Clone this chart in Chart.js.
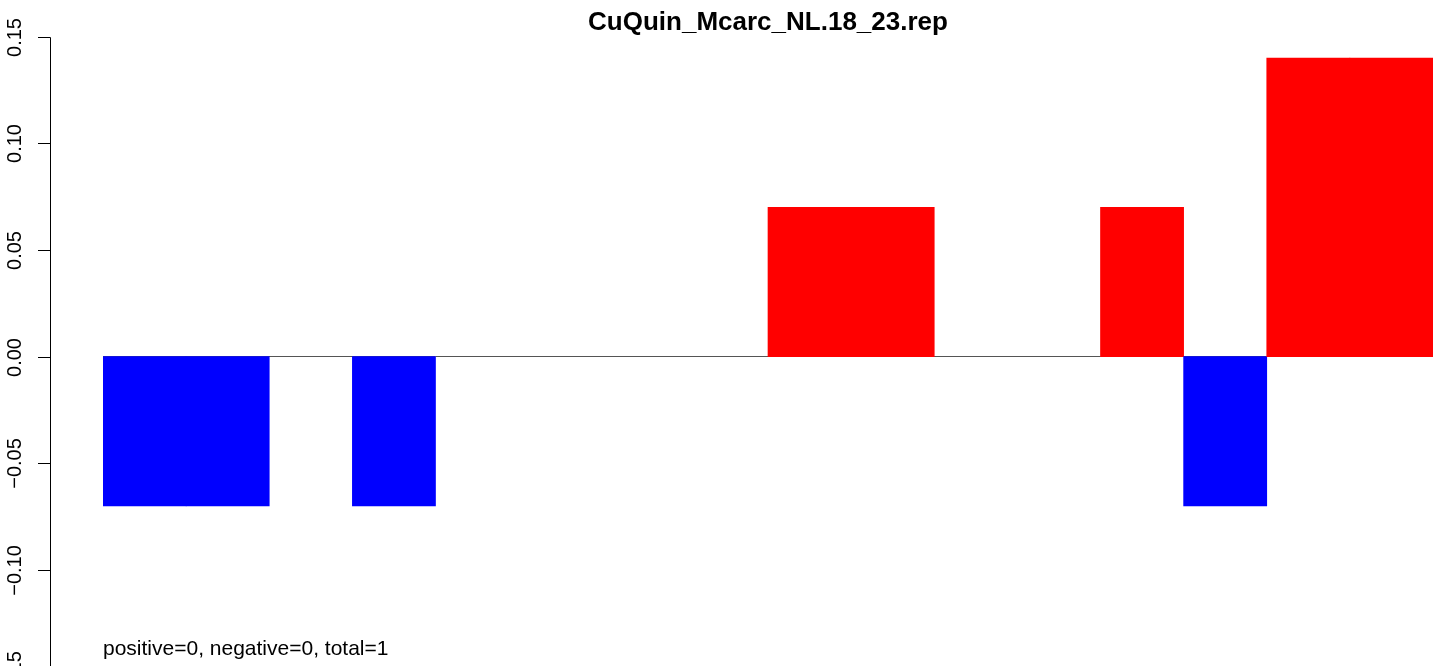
<!DOCTYPE html>
<html><head><meta charset="utf-8">
<script src="https://cdn.jsdelivr.net/npm/chart.js@4.4.1/dist/chart.umd.min.js"></script>
<style>
html,body{margin:0;padding:0;width:1441px;height:666px;overflow:hidden;background:#fff}
#wrap{position:relative;width:1441px;height:720px}
</style></head><body>
<div id="wrap"><canvas id="c"></canvas></div>
<script>
const chartTitle = "CuQuin_Mcarc_NL.18_23.rep";
const categories = ["1","2","3","4","5","6","7","8","9","10","11","12","13","14","15","16"];
const values = [-0.07,-0.07,0,-0.07,0,0,0,0,0.07,0.07,0,0,0.07,-0.07,0.14,0.14];
const yTicks = [-0.15,-0.10,-0.05,0,0.05,0.10,0.15];
const yTickLabels = ["\u22120.15","\u22120.10","\u22120.05","0.00","0.05","0.10","0.15"];
const noteText = "positive=0, negative=0, total=1";
const posColor = "#FF0000", negColor = "#0000FF";

const FONT = "'Liberation Sans', Arial, Helvetica, sans-serif";

const rAxis = {
  id: 'rAxis',
  beforeDatasetsDraw(chart){
    const ctx = chart.ctx, y = chart.scales.y, x = chart.scales.x;
    ctx.save();
    ctx.strokeStyle = '#555555'; ctx.lineWidth = 1;
    const y0 = Math.round(y.getPixelForValue(0)) - 0.5;
    ctx.beginPath(); ctx.moveTo(x.left, y0); ctx.lineTo(x.right, y0); ctx.stroke();
    ctx.restore();
  },
  afterDraw(chart){
    const ctx = chart.ctx, y = chart.scales.y, a = chart.chartArea;
    ctx.save();
    ctx.strokeStyle = '#000'; ctx.lineWidth = 1;
    const ax = 50.5;
    const top = y.getPixelForValue(yTicks[yTicks.length-1]);
    const bot = y.getPixelForValue(yTicks[0]);
    ctx.beginPath(); ctx.moveTo(ax, Math.round(top)+0.5); ctx.lineTo(ax, Math.round(bot)+0.5); ctx.stroke();
    ctx.fillStyle = '#000';
    ctx.font = "20px " + FONT;
    ctx.textAlign = 'center'; ctx.textBaseline = 'alphabetic';
    yTicks.forEach((v,i)=>{
      const py = Math.round(y.getPixelForValue(v)) + 0.5;
      ctx.beginPath(); ctx.moveTo(38, py); ctx.lineTo(ax, py); ctx.stroke();
      ctx.save();
      ctx.translate(21, py);
      ctx.rotate(-Math.PI/2);
      ctx.fillText(yTickLabels[i], 0, 0);
      ctx.restore();
    });
    ctx.font = "21px " + FONT;
    ctx.textAlign = 'left';
    ctx.fillText(noteText, a.left, y.getPixelForValue(-0.1398));
    ctx.restore();
  }
};

new Chart(document.getElementById('c'), {
  type: 'bar',
  data: {
    labels: categories,
    datasets: [{
      data: values,
      backgroundColor: values.map(v => v > 0 ? posColor : (v < 0 ? negColor : 'rgba(0,0,0,0)')),
      borderWidth: 0,
      barPercentage: 1.0,
      categoryPercentage: 1.0
    }]
  },
  options: {
    responsive: true,
    maintainAspectRatio: false,
    animation: false,
    events: [],
    layout: { padding: { left: 103, right: 8, top: 0, bottom: 0 } },
    scales: {
      x: { display: false, offset: true },
      y: { display: false, min: -0.17041, max: 0.14927 }
    },
    plugins: {
      legend: { display: false },
      tooltip: { enabled: false },
      title: {
        display: true,
        text: chartTitle,
        fullSize: false,
        color: '#000',
        font: { family: FONT, size: 26, weight: 'bold', lineHeight: 1.2 },
        padding: { top: 7, bottom: 0 }
      }
    }
  },
  plugins: [rAxis]
});
</script>
</body></html>
